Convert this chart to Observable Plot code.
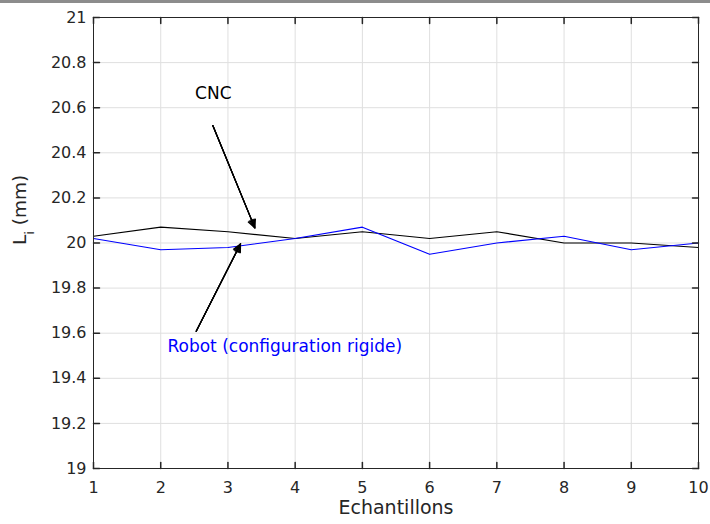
<!DOCTYPE html>
<html><head><meta charset="utf-8">
<script src="https://cdn.jsdelivr.net/npm/d3@7"></script>
<script src="https://cdn.jsdelivr.net/npm/@observablehq/plot@0.6"></script>
<style>
body{margin:0;background:#fff;}
#chart{position:absolute;left:0;top:0;}
#topline{position:absolute;left:0;top:0;width:710px;height:3px;background:#8c8c8c;}
</style></head><body>
<div id="chart"></div>
<div id="topline"></div>
<script>
const samples = [1, 2, 3, 4, 5, 6, 7, 8, 9, 10];
const cncValues = [20.03, 20.07, 20.05, 20.02, 20.05, 20.02, 20.05, 20.00, 20.00, 19.98];
const robotValues = [20.02, 19.97, 19.98, 20.02, 20.07, 19.95, 20.00, 20.03, 19.97, 20.00];
const xTicks = [1, 2, 3, 4, 5, 6, 7, 8, 9, 10];
const yTicks = [19, 19.2, 19.4, 19.6, 19.8, 20, 20.2, 20.4, 20.6, 20.8, 21];
const yTickLabels = ["19", "19.2", "19.4", "19.6", "19.8", "20", "20.2", "20.4", "20.6", "20.8", "21"];
const seriesNames = ["CNC", "Robot (configuration rigide)"];
const xLabel = "Echantillons";
const yLabel = "Li (mm)";

const cncRows = samples.map((s, i) => ({x: s, y: cncValues[i]}));
const robotRows = samples.map((s, i) => ({x: s, y: robotValues[i]}));

const labelCNC = [{x: 2.782, y: 20.664, text: seriesNames[0]}];
const labelRobot = [{x: 2.10, y: 19.543, text: seriesNames[1]}];
const arrowCNC = [{x1: 2.775, y1: 20.521, x2: 3.40, y2: 20.067}];
const arrowRobot = [{x1: 2.528, y1: 19.609, x2: 3.187, y2: 19.996}];

const tickShape = {draw(context, l) { context.moveTo(0, 0); context.lineTo(0, -l); }};
const axisColor = "#262626";
const gridColor = "#dfdfdf";

const arrowMarks = [];
for (const a of [52, 38, 24, 10]) {
  for (const d of [arrowCNC, arrowRobot]) {
    arrowMarks.push(Plot.arrow(d, {x1: "x1", y1: "y1", x2: "x2", y2: "y2", stroke: "black", strokeWidth: 1.2, headLength: 11, headAngle: a}));
  }
}

const chart = Plot.plot({
  width: 710, height: 524,
  marginLeft: 93, marginRight: 12, marginTop: 17, marginBottom: 56,
  style: {fontFamily: "DejaVu Sans", fontSize: "16px", color: axisColor, background: "white"},
  x: {domain: [1, 10]},
  y: {domain: [19, 21]},
  marks: [
    Plot.gridX(xTicks, {stroke: gridColor, strokeOpacity: 1}),
    Plot.gridY(yTicks, {stroke: gridColor, strokeOpacity: 1}),
    Plot.line(cncRows, {x: "x", y: "y", stroke: "black", strokeWidth: 1.2}),
    Plot.line(robotRows, {x: "x", y: "y", stroke: "#0000ff", strokeWidth: 1.2}),
    ...arrowMarks,
    Plot.text(labelCNC, {x: "x", y: "y", text: "text", fill: "black", fontSize: 17, textAnchor: "middle"}),
    Plot.text(labelRobot, {x: "x", y: "y", text: "text", fill: "#0000ff", fontSize: 17, textAnchor: "start"}),
    Plot.vector(xTicks, {x: d => d, y: 19, length: 6, rotate: 0, anchor: "start", shape: tickShape, stroke: axisColor}),
    Plot.vector(xTicks, {x: d => d, y: 21, length: 6, rotate: 180, anchor: "start", shape: tickShape, stroke: axisColor}),
    Plot.vector(yTicks, {x: 1, y: d => d, length: 6, rotate: 90, anchor: "start", shape: tickShape, stroke: axisColor}),
    Plot.vector(yTicks, {x: 10, y: d => d, length: 6, rotate: -90, anchor: "start", shape: tickShape, stroke: axisColor}),
    Plot.axisX(xTicks, {tickSize: 0, tickPadding: 13, label: null, fill: axisColor}),
    Plot.axisY(yTicks, {tickSize: 0, tickPadding: 7, label: null, fill: axisColor, tickFormat: (d, i) => yTickLabels[i]}),
    Plot.frame({stroke: axisColor}),
    Plot.text([xLabel], {frameAnchor: "bottom", dy: 45, text: d => d, fontSize: 19, fill: axisColor}),
    Plot.text([yLabel], {frameAnchor: "left", dx: -73, dy: 2, rotate: -90, text: d => d, fontSize: 18.5, fill: axisColor})
  ]
});
document.getElementById("chart").appendChild(chart);

// subscript on y label
for (const t of chart.querySelectorAll("text")) {
  if (t.textContent === yLabel) {
    t.textContent = "";
    const ns = "http://www.w3.org/2000/svg";
    const a = document.createElementNS(ns, "tspan"); a.textContent = "L";
    const b = document.createElementNS(ns, "tspan"); b.textContent = "i";
    b.setAttribute("baseline-shift", "sub"); b.setAttribute("font-size", "13");
    const c = document.createElementNS(ns, "tspan"); c.textContent = " (mm)";
    t.append(a, b, c);
  }
}
</script>
</body></html>
